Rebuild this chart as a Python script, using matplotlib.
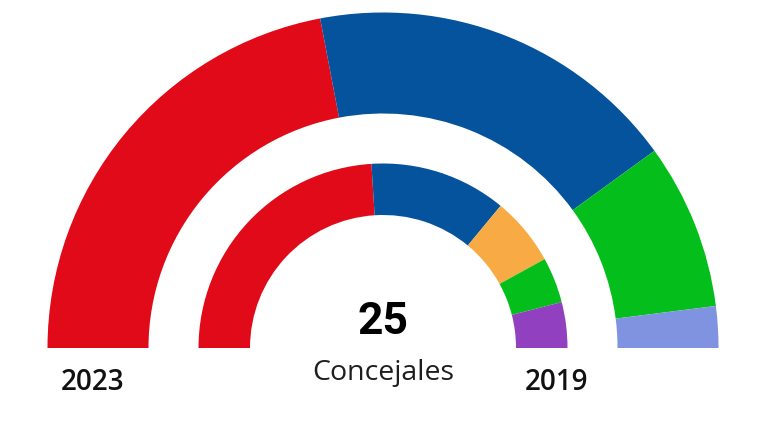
import matplotlib
matplotlib.use('Agg')
import matplotlib.pyplot as plt

# seats per party
seats_2023 = [11, 9, 4, 1]
colors_2023 = ['#e10a19', '#05539d', '#04be1c', '#7f93e0']

seats_2019 = [12, 6, 3, 2, 2]
colors_2019 = ['#e10a19', '#05539d', '#f8aa44', '#04be1c', '#9141bf']

total_label = '25'
sub_label = 'Concejales'
year_labels = ['2023', '2019']

plt.rcParams['font.family'] = ['Open Sans', 'DejaVu Sans']

fig = plt.figure(figsize=(7.68, 4.22), dpi=100)
ax = fig.add_axes([0, 0, 1, 1])
ax.set_xlim(0, 768)
ax.set_ylim(0, 422)
ax.set_aspect('equal')
ax.axis('off')

cx, cy = 383, 74


def half_donut(values, colors, radius, width):
    # pad with an invisible half so the ring is a semicircle
    vals = list(values) + [sum(values)]
    wedges, _ = ax.pie(vals, colors=list(colors) + ['none'], startangle=180,
                       counterclock=False, radius=radius, center=(cx, cy),
                       wedgeprops=dict(width=width, linewidth=0))
    wedges[-1].set_visible(False)


half_donut(seats_2023, colors_2023, 335.5, 101)
half_donut(seats_2019, colors_2019, 184.5, 51.5)

ax.set_xlim(0, 768)
ax.set_ylim(0, 422)

ax.text(cx, 100, total_label, ha='center', va='center', fontsize=32,
        fontweight='bold', color='black', family=['Roboto', 'DejaVu Sans'])
ax.text(cx, 49, sub_label, ha='center', va='center', fontsize=20.5, color='#1e1e1e')
ax.text(93, 40, year_labels[0], ha='center', va='center', fontsize=20,
        fontweight='semibold', color='#111111')
ax.text(557, 40, year_labels[1], ha='center', va='center', fontsize=20,
        fontweight='semibold', color='#111111')

fig.savefig('out.png', dpi=100)
